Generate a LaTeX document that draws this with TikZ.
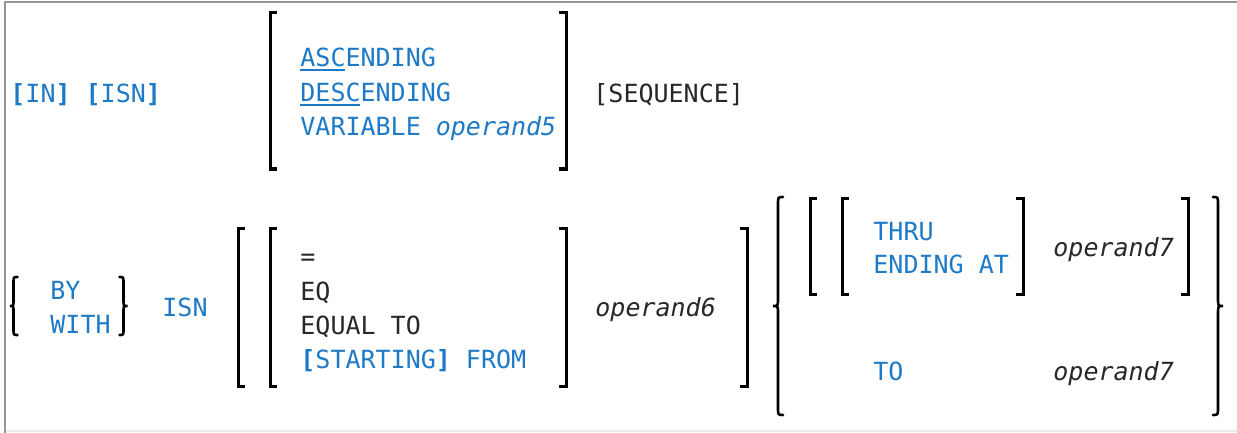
\documentclass[tikz,border=0pt]{standalone}
\usepackage{fontspec}
\usepackage{xcolor}
\usetikzlibrary{positioning}
\newfontfamily\synfont{DejaVu Sans Mono}
\definecolor{KeyBlue}{RGB}{30,122,198}
\definecolor{TextDark}{RGB}{40,40,40}
\definecolor{FrameGray}{RGB}{150,150,150}
\definecolor{FrameLight}{RGB}{235,235,235}
\tikzset{
  synbase/.style={inner sep=0pt,anchor=base west,
    font=\synfont\fontsize{12.5}{15}\selectfont},
  keyword/.style={synbase,text=KeyBlue},
  plainword/.style={synbase,text=TextDark},
  operand/.style={synbase,text=TextDark,
    font=\synfont\fontsize{12.5}{15}\selectfont\itshape},
  bracket/.style={draw=black,line width=1.5pt},
  curly/.style={draw=black,line width=1.3pt,line cap=round},
  abbrev/.style={draw=KeyBlue,line width=0.8pt},
}

\begin{document}
\begin{tikzpicture}[x=0.5pt,y=-0.5pt]
  \fill[white] (0,0) rectangle (1237,433);
  \useasboundingbox (0,0) rectangle (1237,433);
  % frame
  \draw[FrameGray,line width=1pt] (5,433) -- (5,2) -- (1237,2);
  \draw[FrameLight,line width=1pt] (6,431) -- (1237,431);

  % first row
  \node[keyword] (inisn) at (10,103) {\textbf{[}IN\textbf{]} \textbf{[}ISN\textbf{]}};
  \node[keyword] (asc) at (300,67) {ASCENDING};
  \node[keyword] (desc) at (300,102) {DESCENDING};
  \node[keyword] (var) at (300,136) {VARIABLE \textit{operand5}};
  \node[plainword] (seq) at (593,103) {[SEQUENCE]};
  % abbreviations
  \draw[abbrev] ([yshift=-1.6pt]asc.base west) -- +(45,0);
  \draw[abbrev] ([yshift=-1.6pt]desc.base west) -- +(60,0);
  \draw[bracket] (277,13) -- (270,13) -- (270,169) -- (277,169);
  \draw[bracket] (559,13) -- (566,13) -- (566,169) -- (559,169);

  % second row: BY / WITH
  \node[keyword] (by) at (50,299) {BY};
  \node[keyword] (with) at (50,333) {WITH};
  \draw[curly] (17.5,277) .. controls (13.5,277) .. (13.5,283) -- (13.5,300)
    .. controls (13.5,306) .. (10,306) .. controls (13.5,306) .. (13.5,312)
    -- (13.5,329) .. controls (13.5,335) .. (17.5,335);
  \draw[curly] (119.5,277) .. controls (123.5,277) .. (123.5,283) -- (123.5,300)
    .. controls (123.5,306) .. (127.5,306) .. controls (123.5,306) .. (123.5,312)
    -- (123.5,329) .. controls (123.5,335) .. (119.5,335);
  \node[keyword] (isn) at (162,316) {ISN};

  % comparison operators
  \node[plainword] (eqsign) at (300,265) {=};
  \node[plainword] (eq) at (300,300) {EQ};
  \node[plainword] (equalto) at (300,334) {EQUAL TO};
  \node[keyword] (from) at (300,368) {\textbf{[}STARTING\textbf{]} FROM};
  \node[operand] (opsix) at (595,316) {operand6};
  \draw[bracket] (245,228) -- (238,228) -- (238,386) -- (245,386);
  \draw[bracket] (277,228) -- (270,228) -- (270,386) -- (277,386);
  \draw[bracket] (559,228) -- (566,228) -- (566,386) -- (559,386);
  \draw[bracket] (740,228) -- (747,228) -- (747,386) -- (740,386);

  % end value
  \node[keyword] (thru) at (873,240) {THRU};
  \node[keyword] (endat) at (873,273) {ENDING AT};
  \node[operand] (opseven) at (1053,256) {operand7};
  \node[keyword] (to) at (873,380) {TO};
  \node[operand] (opsevenb) at (1053,380) {operand7};
  \draw[bracket] (817,198) -- (810,198) -- (810,294) -- (817,294);
  \draw[bracket] (849,198) -- (842,198) -- (842,294) -- (849,294);
  \draw[bracket] (1016,198) -- (1023,198) -- (1023,294) -- (1016,294);
  \draw[bracket] (1181,198) -- (1188,198) -- (1188,294) -- (1181,294);
  \draw[curly] (783,197) .. controls (778,197) .. (778,205) -- (778,298)
    .. controls (778,306) .. (773,306) .. controls (778,306) .. (778,314)
    -- (778,407) .. controls (778,415) .. (783,415);
  \draw[curly] (1213,197) .. controls (1218,197) .. (1218,205) -- (1218,298)
    .. controls (1218,306) .. (1223,306) .. controls (1218,306) .. (1218,314)
    -- (1218,407) .. controls (1218,415) .. (1213,415);
\end{tikzpicture}
\end{document}
